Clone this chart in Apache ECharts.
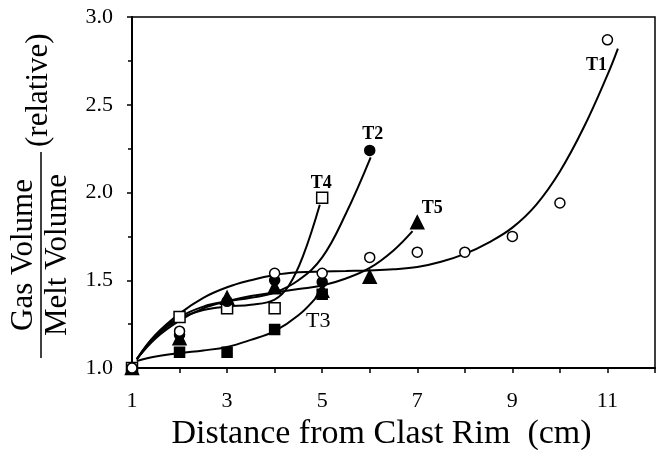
<!DOCTYPE html>
<html>
<head>
<meta charset="utf-8">
<script src="https://cdn.jsdelivr.net/npm/echarts/dist/echarts.min.js"></script>
<style>
  html, body { margin: 0; padding: 0; background: #fff; }
  #chart { width: 662px; height: 450px; }
</style>
</head>
<body>
<div id="chart"></div>
<script>
// Measured gas/melt volume ratios along each traverse
var t1X = [1, 2, 4, 5, 6, 7, 8, 9, 10, 11];
var t1Y = [1.00, 1.21, 1.54, 1.54, 1.63, 1.66, 1.66, 1.75, 1.94, 2.87];
var t2X = [1, 2, 3, 4, 5, 6];
var t2Y = [1.00, 1.19, 1.38, 1.50, 1.49, 2.24];
var t3X = [1, 2, 3, 4, 5];
var t3Y = [1.00, 1.09, 1.09, 1.22, 1.42];
var t4X = [1, 2, 3, 4, 5];
var t4Y = [1.00, 1.29, 1.34, 1.34, 1.97];
var t5X = [1, 2, 3, 4, 5, 6, 7];
var t5Y = [1.00, 1.17, 1.40, 1.46, 1.44, 1.52, 1.83];

// Fitted trend curves, sampled along x
var t1Fit = [[1.1,1.05],[1.5,1.19],[2,1.31],[2.5,1.40],[3,1.46],[3.5,1.50],[4,1.53],[4.5,1.545],[5,1.55],[5.5,1.553],[6,1.556],[6.5,1.562],[7,1.575],[7.5,1.605],[8,1.65],[8.5,1.715],[9,1.80],[9.5,1.93],[10,2.12],[10.5,2.37],[11,2.67],[11.22,2.82]];
var t2Fit = [[1.1,1.05],[1.5,1.19],[2,1.29],[2.5,1.35],[3,1.38],[3.5,1.40],[4,1.43],[4.5,1.50],[5,1.63],[5.5,1.88],[6.02,2.20]];
var t3Fit = [[1.1,1.04],[1.5,1.065],[2,1.085],[2.5,1.10],[3,1.12],[3.5,1.16],[4,1.21],[4.5,1.30],[4.9,1.41]];
var t4Fit = [[1.1,1.05],[1.5,1.18],[2,1.28],[2.5,1.33],[3,1.35],[3.5,1.36],[4,1.39],[4.3,1.47],[4.6,1.64],[4.95,1.93]];
var t5Fit = [[1.1,1.05],[1.5,1.17],[2,1.27],[2.5,1.34],[3,1.38],[3.5,1.41],[4,1.43],[4.5,1.45],[5,1.47],[5.5,1.51],[6,1.57],[6.5,1.67],[6.9,1.78]];

var xTicks = [1, 3, 5, 7, 9, 11];
var yTicks = [1.0, 1.5, 2.0, 2.5, 3.0];

var SERIF = '"Liberation Serif", "DejaVu Serif", serif';

function points(xs, ys, name, labelStyle) {
  return xs.map(function (x, i) {
    var item = { value: [x, ys[i]] };
    if (i === xs.length - 1 && labelStyle) {
      item.label = Object.assign({ show: true, formatter: name }, labelStyle);
    }
    return item;
  });
}

function fitLine(data) {
  return {
    type: 'line', data: data, smooth: 0.4, showSymbol: false, symbol: 'none',
    lineStyle: { color: '#000', width: 2 }, z: 2, silent: true
  };
}

function markers(data, symbol, size, fill, z) {
  return {
    type: 'scatter', data: data, symbol: symbol, symbolSize: size, z: z,
    itemStyle: { color: fill, borderColor: '#000', borderWidth: 1.5, opacity: 1 }
  };
}

var tagBold = { position: 'inside', fontFamily: SERIF, fontWeight: 'bold', fontSize: 18, color: '#000' };

var chart = echarts.init(document.getElementById('chart'), null, { renderer: 'canvas' });
chart.setOption({
  animation: false,
  backgroundColor: '#fff',
  grid: {
    left: 132, right: 7, top: 17, bottom: 82, outerBoundsMode: 'none', containLabel: false,
    show: true, borderColor: '#000', borderWidth: 1.5
  },
  xAxis: {
    type: 'value', min: 1, max: 12, interval: 1,
    axisLine: { lineStyle: { color: '#000', width: 2 } },
    axisTick: { show: true, length: 5, lineStyle: { color: '#000', width: 1.5 } },
    splitLine: { show: false },
    axisLabel: {
      fontFamily: SERIF, fontSize: 22, color: '#000', margin: 22,
      formatter: function (v) { return xTicks.indexOf(v) >= 0 ? String(v) : ''; }
    },
    name: 'Distance from Clast Rim  (cm)', nameLocation: 'middle', nameGap: 48,
    nameTextStyle: { fontFamily: SERIF, fontSize: 34, color: '#000', padding: [0, 24, 0, 0] }
  },
  yAxis: {
    type: 'value', min: 1, max: 3, interval: 0.5,
    axisLine: { lineStyle: { color: '#000', width: 2 } },
    axisTick: { show: true, length: 5, lineStyle: { color: '#000', width: 1.5 } },
    minorTick: { show: true, splitNumber: 2, length: 4, lineStyle: { color: '#000', width: 1.5 } },
    splitLine: { show: false },
    axisLabel: {
      fontFamily: SERIF, fontSize: 22, color: '#000', margin: 19,
      formatter: function (v) {
        var m = yTicks.filter(function (t) { return Math.abs(t - v) < 1e-9; });
        return m.length ? m[0].toFixed(1) : '';
      }
    }
  },
  graphic: [{
    type: 'group', x: 41, y: 358, rotation: Math.PI / 2,
    children: [
      { type: 'text', x: 103, y: -2, style: { text: 'Gas Volume', font: '31px ' + SERIF, fill: '#000', textAlign: 'center', textVerticalAlign: 'bottom' } },
      { type: 'line', shape: { x1: 0, y1: 0, x2: 206, y2: 0 }, style: { stroke: '#000', lineWidth: 1.5 } },
      { type: 'text', x: 103, y: 1, style: { text: 'Melt Volume', font: '31px ' + SERIF, fill: '#000', textAlign: 'center', textVerticalAlign: 'top' } },
      { type: 'text', x: 211, y: -2, style: { text: '(relative)', font: '31px ' + SERIF, fill: '#000', textAlign: 'left', textVerticalAlign: 'middle' } }
    ]
  }],
  series: [
    fitLine(t1Fit), fitLine(t2Fit), fitLine(t3Fit), fitLine(t4Fit), fitLine(t5Fit),
    markers(points(t3X, t3Y, 'T3', { position: 'inside', offset: [-4, 27], fontFamily: SERIF, fontSize: 22, color: '#000' }), 'rect', 10, '#000', 5),
    markers(points(t4X, t4Y, 'T4', Object.assign({ offset: [-1, -14] }, tagBold)), 'rect', 11, '#fff', 6),
    markers(points(t5X, t5Y, 'T5', Object.assign({ offset: [15, -14] }, tagBold)), 'triangle', 13, '#000', 7),
    markers(points(t2X, t2Y, 'T2', Object.assign({ offset: [3, -16] }, tagBold)), 'circle', 10, '#000', 8),
    markers(points(t1X, t1Y, 'T1', Object.assign({ offset: [-11, 26] }, tagBold)), 'circle', 10, '#fff', 9)
  ]
});
</script>
</body>
</html>
